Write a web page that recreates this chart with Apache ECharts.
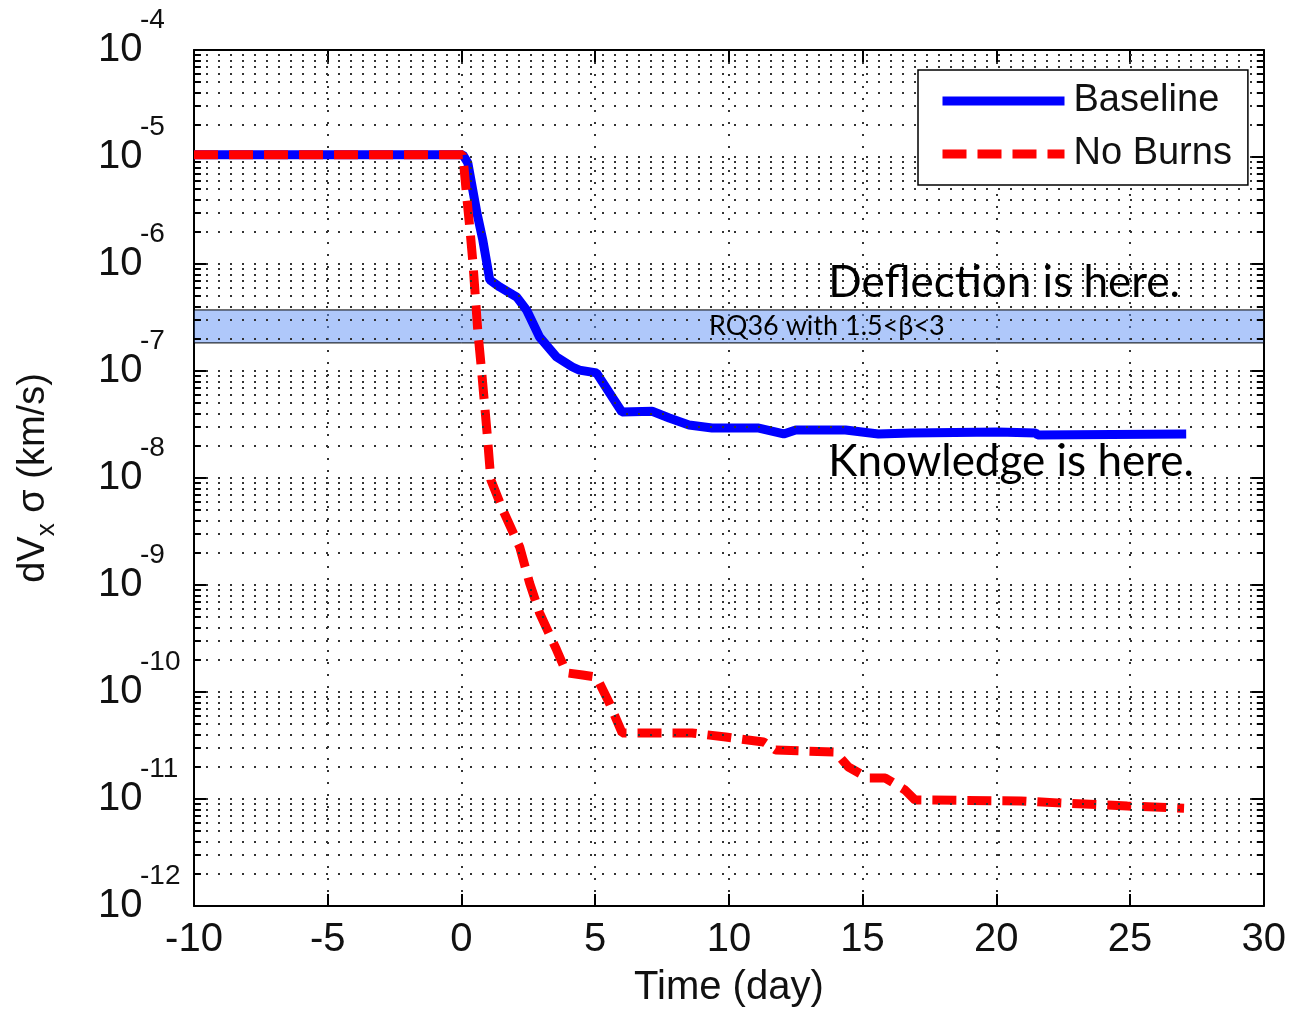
<!DOCTYPE html>
<html><head><meta charset="utf-8">
<script src="https://cdn.jsdelivr.net/npm/echarts@6/dist/echarts.min.js"></script>
<style>html,body{margin:0;padding:0;background:#fff}#c{width:1289px;height:1013px}</style>
</head><body><div id="c"></div>
<script>
// ---- data ----
const baselineDays = [-10,0.05,0.24,0.58,0.80,1.06,1.43,2.07,2.44,2.92,3.56,4.15,4.41,5.05,6.0,7.13,7.77,8.51,9.37,11.12,12.05,12.5,14.36,15.59,16.82,20.06,21.47,21.55,27.1];
const baselineValues = [1.05e-5,1.05e-5,8.8e-6,3.0e-6,1.67e-6,7.1e-7,6.1e-7,4.9e-7,3.7e-7,2.08e-7,1.35e-7,1.09e-7,1.02e-7,9.6e-8,4.14e-8,4.2e-8,3.64e-8,3.13e-8,2.93e-8,2.93e-8,2.58e-8,2.81e-8,2.81e-8,2.58e-8,2.64e-8,2.69e-8,2.64e-8,2.52e-8,2.58e-8];
const noBurnsDays = [-10,0.05,0.2,0.32,0.43,0.61,0.76,0.95,1.1,1.55,2.18,2.55,2.92,3.56,3.93,4.53,5.05,5.53,6.01,8.62,9.88,11.3,11.75,13.98,14.47,15.21,15.85,16.59,16.96,20.91,22.29,24.9,27.02];
const noBurnsValues = [1.05e-5,1.05e-5,4.2e-6,2.08e-6,1.02e-6,2.4e-7,9.6e-8,2.8e-8,9.6e-9,5.0e-9,2.26e-9,1.04e-9,5.5e-10,2.47e-10,1.51e-10,1.44e-10,1.38e-10,7.9e-11,4.14e-11,4.14e-11,3.79e-11,3.41e-11,2.87e-11,2.75e-11,1.99e-11,1.57e-11,1.57e-11,1.21e-11,9.8e-12,9.6e-12,9.2e-12,8.6e-12,8.2e-12];
const seriesNames = ['Baseline', 'No Burns'];
const xMin = -10, xMax = 30, xStep = 5;
const yMin = 1e-12, yMax = 1e-4;
const minorExponents = [-12,-11,-10,-9,-8,-7,-6,-5];
const minorMultipliers = [2,3,4,5,6,7,8,9];
const bandLow = 1.83e-7, bandHigh = 3.72e-7;
const bandText = 'RQ36 with 1.5<β<3';
const notes = [
  {text: 'Deflection is here.', day: 13.72, value: 6.6e-7},
  {text: 'Knowledge is here.', day: 13.72, value: 1.42e-8}
];
const xTitle = 'Time (day)';

// ---- helpers ----
const pairs = (xs, ys) => xs.map((x, i) => [x, ys[i]]);
const minorValues = [];
minorExponents.forEach(e => minorMultipliers.forEach(k => minorValues.push(k * Math.pow(10, e))));
const tickLen = 0.26;
const dotStyle = {color: '#333', width: 2, type: [2, 10]};
const tickStyle = {color: '#000', width: 2, type: 'solid'};
const FONT = 'Liberation Sans';

const gridLines = minorValues.map(v => [{coord: [xMin, v], lineStyle: dotStyle}, {coord: [xMax, v]}]);
const leftTicks = minorValues.map(v => [{coord: [xMin, v], lineStyle: tickStyle}, {coord: [xMin + tickLen, v]}]);
const rightTicks = minorValues.map(v => [{coord: [xMax - tickLen, v], lineStyle: tickStyle}, {coord: [xMax, v]}]);

const chart = echarts.init(document.getElementById('c'), null, {renderer: 'canvas'});
chart.setOption({
  animation: false,
  backgroundColor: '#fff',
  grid: {left: 193, right: 22, top: 50, bottom: 106, containLabel: false},
  legend: {
    data: seriesNames, orient: 'vertical', left: 918, top: 70, z: 10,
    padding: [12, 16, 12, 20], itemGap: 15, itemWidth: 122, itemHeight: 40,
    backgroundColor: '#fff', borderColor: '#000', borderWidth: 1.5, borderRadius: 0,
    lineStyle: {width: 9},
    itemStyle: {opacity: 0},
    textStyle: {fontSize: 38, fontFamily: FONT, color: '#111', padding: [0, 0, 0, 4]}
  },
  xAxis: [{
    type: 'value', min: xMin, max: xMax, interval: xStep, position: 'bottom',
    name: xTitle, nameLocation: 'middle', nameGap: 62,
    nameTextStyle: {fontSize: 40, fontFamily: FONT, color: '#111'},
    axisLine: {show: true, onZero: false, lineStyle: {color: '#000', width: 2}},
    axisTick: {show: true, inside: true, length: 12, lineStyle: {color: '#000', width: 2}},
    axisLabel: {fontSize: 40, fontFamily: FONT, color: '#111', margin: 14},
    splitLine: {show: true, lineStyle: dotStyle}
  }, {
    type: 'value', min: xMin, max: xMax, interval: xStep, position: 'top',
    axisLine: {show: true, onZero: false, lineStyle: {color: '#000', width: 2}},
    axisTick: {show: true, inside: true, length: 12, lineStyle: {color: '#000', width: 2}},
    axisLabel: {show: false}, splitLine: {show: false}
  }],
  yAxis: [{
    type: 'log', logBase: 10, min: yMin, max: yMax, splitNumber: 8, position: 'left',
    name: '{a|dV}{x|x}{a| σ (km/s)}', nameLocation: 'middle', nameRotate: 90, nameGap: 140,
    nameTextStyle: {color: '#111', rich: {
      a: {fontSize: 38, fontFamily: FONT, color: '#111', lineHeight: 40},
      x: {fontSize: 26, fontFamily: FONT, color: '#111', lineHeight: 26, padding: [26, 0, 0, 0]}
    }},
    axisLine: {show: true, onZero: false, lineStyle: {color: '#000', width: 2}},
    axisTick: {show: true, inside: true, length: 12, lineStyle: {color: '#000', width: 2}},
    axisLabel: {
      align: 'left', margin: 96, padding: [0, 0, 24, 0],
      formatter: v => '{s|}{e|' + Math.round(Math.log10(v)) + '}\n{b|10}',
      rich: {
        s: {width: 42},
        e: {fontSize: 28, fontFamily: FONT, color: '#111', lineHeight: 24},
        b: {fontSize: 40, fontFamily: FONT, color: '#111', lineHeight: 36}
      }
    },
    splitLine: {show: true, lineStyle: dotStyle}
  }, {
    type: 'log', logBase: 10, min: yMin, max: yMax, splitNumber: 8, position: 'right',
    axisLine: {show: true, onZero: false, lineStyle: {color: '#000', width: 2}},
    axisTick: {show: true, inside: true, length: 12, lineStyle: {color: '#000', width: 2}},
    axisLabel: {show: false}, splitLine: {show: false}
  }],
  series: [{
    name: 'grid-minor', type: 'line', data: [], z: 1, silent: true,
    markLine: {
      silent: true, symbol: ['none', 'none'], label: {show: false}, animation: false,
      lineStyle: dotStyle,
      data: gridLines.concat(leftTicks).concat(rightTicks)
    }
  }, {
    name: seriesNames[0], type: 'line', z: 2, symbol: 'none', showSymbol: false,
    data: pairs(baselineDays, baselineValues),
    lineStyle: {color: '#0000ff', width: 9, type: 'solid'},
    itemStyle: {color: '#0000ff'}
  }, {
    name: seriesNames[1], type: 'line', z: 3, symbol: 'none', showSymbol: false,
    data: pairs(noBurnsDays, noBurnsValues),
    lineStyle: {color: '#ff0000', width: 9, type: [24, 11], cap: 'butt'},
    itemStyle: {color: '#ff0000'}
  }, {
    name: 'annot', type: 'line', data: [], z: 4, silent: true,
    markArea: {
      silent: true,
      itemStyle: {color: 'rgba(95,145,245,0.5)', borderColor: '#000', borderWidth: 1},
      label: {show: true, position: 'inside', formatter: bandText, fontSize: 27, fontFamily: 'Lato', color: '#000', offset: [98, 0]},
      data: [[{coord: [xMin, bandHigh]}, {coord: [xMax, bandLow]}]]
    },
    markPoint: {
      silent: true, symbol: 'circle', symbolSize: 0,
      data: notes.map(n => ({coord: [n.day, n.value], label: {show: true, formatter: n.text, position: [0, 0], align: 'left', verticalAlign: 'middle', fontSize: 44, fontFamily: 'Lato', color: '#000'}}))
    }
  }]
});
</script>
</body></html>
